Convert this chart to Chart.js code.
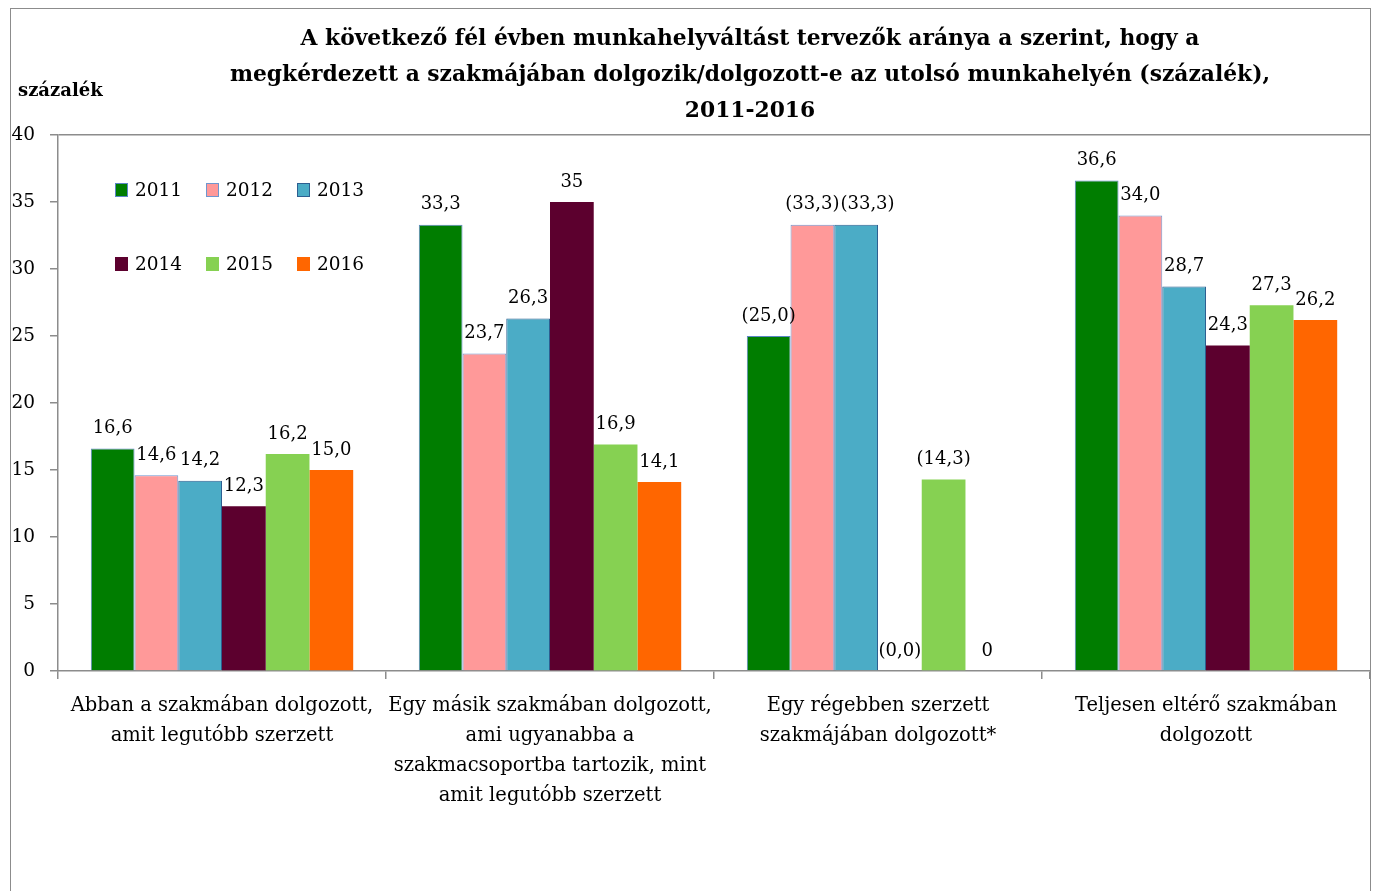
<!DOCTYPE html>
<html>
<head>
<meta charset="utf-8">
<script src="https://cdn.jsdelivr.net/npm/chart.js@4"></script>
<style>
html, body { margin: 0; padding: 0; background: #fff; overflow: hidden; }
#keret { position: absolute; left: 10px; top: 8px; width: 1361px; height: 950px; border: 1.5px solid #8c8c8c; box-sizing: border-box; }
#cim { position: absolute; left: 0; top: 20px; width: 1500px; text-align: center; font: bold 21.8px 'DejaVu Serif'; line-height: 36px; color: #000; }
#tengelyCim { position: absolute; left: 18px; top: 79px; font: bold 18px 'DejaVu Serif'; color: #000; }
canvas { position: absolute; left: 0; top: 0; }
</style>
</head>
<body>
<div id="keret"></div>
<canvas id="grafikon" width="1373" height="891"></canvas>
<div id="cim">A következő fél évben munkahelyváltást tervezők aránya a szerint, hogy a<br>megkérdezett a szakmájában dolgozik/dolgozott-e az utolsó munkahelyén (százalék),<br>2011-2016</div>
<div id="tengelyCim">százalék</div>
<script>
// kategóriák (több soros feliratok)
const kategoriak = [
    ['Abban a szakmában dolgozott,', 'amit legutóbb szerzett'],
    ['Egy másik szakmában dolgozott,', 'ami ugyanabba a', 'szakmacsoportba tartozik, mint', 'amit legutóbb szerzett'],
    ['Egy régebben szerzett', 'szakmájában dolgozott*'],
    ['Teljesen eltérő szakmában', 'dolgozott']
];

const evek = ['2011', '2012', '2013', '2014', '2015', '2016'];

// értékek évenként
const ertekek2011 = [16.6, 33.3, 25.0, 36.6];
const ertekek2012 = [14.6, 23.7, 33.3, 34.0];
const ertekek2013 = [14.2, 26.3, 33.3, 28.7];
const ertekek2014 = [12.3, 35.0, 0.0, 24.3];
const ertekek2015 = [16.2, 16.9, 14.3, 27.3];
const ertekek2016 = [15.0, 14.1, 0.0, 26.2];

// feliratok az oszlopok fölött
const felirat2011 = ['16,6', '33,3', '(25,0)', '36,6'];
const felirat2012 = ['14,6', '23,7', '(33,3)', '34,0'];
const felirat2013 = ['14,2', '26,3', '(33,3)', '28,7'];
const felirat2014 = ['12,3', '35', '(0,0)', '24,3'];
const felirat2015 = ['16,2', '16,9', '(14,3)', '27,3'];
const felirat2016 = ['15,0', '14,1', '0', '26,2'];

const yTickek = [0, 5, 10, 15, 20, 25, 30, 35, 40];

const betu = 'DejaVu Serif';
const szurke = '#8c8c8c';

const data = {
    labels: kategoriak,
    datasets: [
        { label: evek[0], data: ertekek2011, feliratok: felirat2011, backgroundColor: '#007d00', borderColor: '#5b86c5', borderWidth: 1 },
        { label: evek[1], data: ertekek2012, feliratok: felirat2012, backgroundColor: '#ff9999', borderColor: '#6f96cf', borderWidth: 1 },
        { label: evek[2], data: ertekek2013, feliratok: felirat2013, backgroundColor: '#4bacc6', borderColor: '#2d5f91', borderWidth: 1 },
        { label: evek[3], data: ertekek2014, feliratok: felirat2014, backgroundColor: '#5c002e', borderWidth: 0 },
        { label: evek[4], data: ertekek2015, feliratok: felirat2015, backgroundColor: '#86d152', borderWidth: 0 },
        { label: evek[5], data: ertekek2016, feliratok: felirat2016, backgroundColor: '#ff6600', borderWidth: 0 }
    ]
};

// értékfeliratok - ha két szomszédos felirat összeérne, a későbbit jobbra toljuk
const ertekFeliratok = {
    id: 'ertekFeliratok',
    afterDatasetsDraw(chart) {
        const ctx = chart.ctx;
        ctx.save();
        ctx.font = '18px "' + betu + '"';
        ctx.fillStyle = '#000';
        ctx.textAlign = 'center';
        ctx.textBaseline = 'middle';
        const elozo = [];
        chart.data.datasets.forEach((ds, i) => {
            chart.getDatasetMeta(i).data.forEach((oszlop, j) => {
                const szoveg = ds.feliratok[j];
                const w = ctx.measureText(szoveg).width;
                let x = oszlop.x;
                const y = oszlop.y - 20;
                const e = elozo[j];
                if (e && Math.abs(e.y - y) < 12 && x - w / 2 < e.jobb + 1) {
                    x = e.jobb + 1 + w / 2;
                }
                ctx.fillText(szoveg, x, y);
                elozo[j] = { y: y, jobb: x + w / 2 };
            });
        });
        ctx.restore();
    }
};

// jelmagyarázat a rajzterületen belül
const belsoJelmagyarazat = {
    id: 'belsoJelmagyarazat',
    afterDraw(chart) {
        const { ctx, chartArea } = chart;
        ctx.save();
        ctx.font = '18.5px "' + betu + '"';
        ctx.textBaseline = 'middle';
        chart.data.datasets.forEach((ds, i) => {
            const x = chartArea.left + 57 + (i % 3) * 91;
            const y = chartArea.top + 55 + Math.floor(i / 3) * 74;
            ctx.fillStyle = ds.backgroundColor;
            ctx.fillRect(x, y - 7, 13, 14);
            if (ds.borderWidth) {
                ctx.strokeStyle = ds.borderColor;
                ctx.lineWidth = 1;
                ctx.strokeRect(x + 0.5, y - 6.5, 12, 13);
            }
            ctx.fillStyle = '#000';
            ctx.fillText(ds.label, x + 20, y + 1);
        });
        ctx.restore();
    }
};

const grafikon = new Chart(document.getElementById('grafikon').getContext('2d'), {
    type: 'bar',
    data: data,
    plugins: [ertekFeliratok, belsoJelmagyarazat],
    options: {
        responsive: false,
        animation: false,
        layout: { padding: { left: 10, right: 3, top: 135, bottom: 60 } },
        datasets: { bar: { categoryPercentage: 0.8, barPercentage: 1.0 } },
        plugins: {
            legend: { display: false },
            title: { display: false },
            tooltip: { enabled: false }
        },
        scales: {
            x: {
                afterFit(scale) { scale.height = 160; },
                grid: {
                    offset: true,
                    color: ctx => ctx.index === kategoriak.length ? szurke : 'rgba(0,0,0,0)',
                    tickColor: szurke,
                    tickLength: 8,
                    lineWidth: 1.5
                },
                border: { color: szurke, width: 1.5 },
                ticks: {
                    color: '#000',
                    padding: 12,
                    maxRotation: 0,
                    autoSkip: false,
                    font: { family: betu, size: 19.5, lineHeight: 1.54 }
                }
            },
            y: {
                min: 0,
                max: 40,
                afterFit(scale) { scale.width = 48; },
                afterBuildTicks(scale) { scale.ticks = yTickek.map(v => ({ value: v })); },
                grid: {
                    color: ctx => ctx.tick && ctx.tick.value === 40 ? szurke : 'rgba(0,0,0,0)',
                    tickColor: szurke,
                    tickLength: 8,
                    lineWidth: 1.5
                },
                border: { color: szurke, width: 1.5 },
                ticks: {
                    color: '#000',
                    padding: 15,
                    font: { family: betu, size: 18.5 }
                }
            }
        }
    }
});
</script>
</body>
</html>
